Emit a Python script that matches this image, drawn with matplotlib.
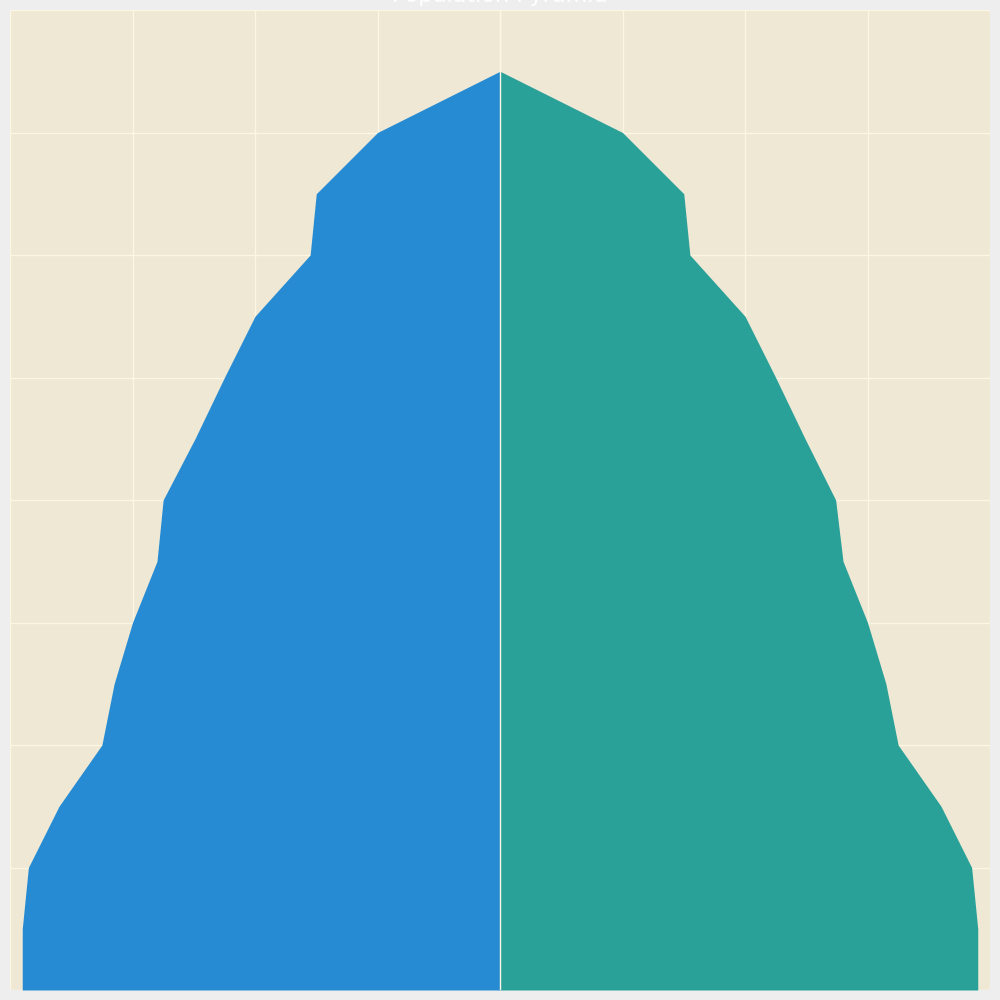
import matplotlib.pyplot as plt
import numpy as np

# age group lower bounds and population (millions)
ages = np.arange(0, 80, 5)
male = [3.9, 3.9, 3.85, 3.6, 3.25, 3.15, 3.0, 2.8, 2.75, 2.49, 2.25, 2.0, 1.55, 1.5, 1.0, 0.0]
female = [3.9, 3.9, 3.85, 3.6, 3.25, 3.15, 3.0, 2.8, 2.74, 2.49, 2.25, 2.0, 1.55, 1.5, 1.0, 0.0]

fig = plt.figure(figsize=(10, 10), dpi=100, facecolor='#eeeeee')
ax = fig.add_axes([0.01, 0.01, 0.98, 0.98])
ax.set_facecolor('#eee8d5')

ax.fill_betweenx(ages, -np.array(male), 0, color='#268bd2', linewidth=0, zorder=2)
ax.fill_betweenx(ages, 0, female, color='#2aa198', linewidth=0, zorder=2)
ax.axvline(0, color='#fdf6e3', linewidth=1, zorder=3)

ax.set_xlim(-4, 4)
ax.set_ylim(0, 80)
ax.set_xticks(np.arange(-4, 5, 1))
ax.set_yticks(np.arange(0, 90, 10))
ax.grid(True, color='#fdf6e3', linewidth=1, zorder=1)
ax.set_axisbelow(True)
ax.tick_params(left=False, bottom=False, labelleft=False, labelbottom=False)
for s in ax.spines.values():
    s.set_visible(False)

ax.set_title('Population Pyramid', color='white', fontsize=16)

fig.savefig('out.png', dpi=100, facecolor=fig.get_facecolor())
